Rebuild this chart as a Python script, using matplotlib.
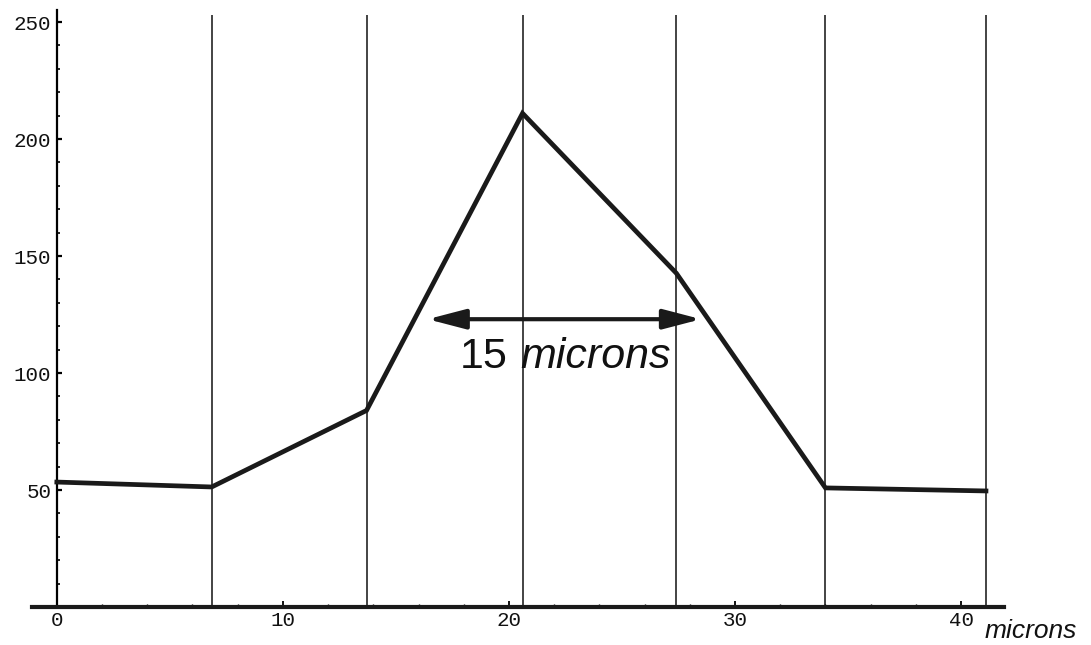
import matplotlib
matplotlib.use("Agg")
import matplotlib.pyplot as plt
from matplotlib.ticker import MultipleLocator

# Intensity profile sampled at each grid column (position in microns)
positions = [0.0, 6.85, 13.7, 20.6, 27.4, 34.0, 41.1]
intensity = [53.4, 51.3, 84.0, 211.0, 142.7, 50.9, 49.6]
grid_lines = positions[1:]

x_ticks = [0, 10, 20, 30, 40]
y_ticks = [50, 100, 150, 200, 250]

# Width marker for the peak
span_start, span_end, span_level = 16.4, 28.5, 123.0
span_label_num = "15"
span_label_unit = "microns"
axis_unit = "microns"

mono = ["Liberation Mono", "DejaVu Sans Mono"]
sans = ["Liberation Sans", "DejaVu Sans"]

fig = plt.figure(figsize=(10.91, 6.45), dpi=100)
ax = fig.add_axes([0.0293, 0.0589, 0.891, 0.9287])
ax.set_xlim(-1.1, 41.9)
ax.set_ylim(0, 256)

# Grid columns
ax.vlines(grid_lines, 0, 253, colors="#111111", linewidth=1.1, zorder=1)

# Profile
ax.plot(positions, intensity, color="#1a1a1a", linewidth=3.4,
        solid_joinstyle="miter", zorder=3)

# Axes styling
for side in ("top", "right"):
    ax.spines[side].set_visible(False)
ax.spines["left"].set_position(("data", 0))
ax.spines["left"].set_linewidth(1.6)
ax.spines["left"].set_bounds(0, 255)
ax.spines["bottom"].set_linewidth(3.0)
ax.spines["bottom"].set_color("#1a1a1a")

ax.set_xticks(x_ticks)
ax.set_yticks(y_ticks)
ax.xaxis.set_minor_locator(MultipleLocator(2))
ax.yaxis.set_minor_locator(MultipleLocator(10))
ax.tick_params(axis="x", which="major", direction="in", length=4.5, width=1.3, pad=3)
ax.tick_params(axis="x", which="minor", direction="in", length=2.0, width=1.0)
ax.tick_params(axis="y", which="major", direction="in", length=3.5, width=1.6, pad=4)
ax.tick_params(axis="y", which="minor", direction="in", length=2.0, width=1.2)
for lbl in ax.get_xticklabels() + ax.get_yticklabels():
    lbl.set_fontfamily(mono)
    lbl.set_fontsize(15)
    lbl.set_color("#111111")

# Axis unit after the last tick label
ax.text(41.06, -13.4, axis_unit, family=sans, style="italic", fontsize=19,
        ha="left", va="baseline", clip_on=False, color="#111111")

# Double-headed width arrow
ax.annotate("", xy=(span_start, span_level), xytext=(span_end, span_level),
            arrowprops=dict(arrowstyle="<|-|>,head_length=2.3,head_width=0.6",
                            mutation_scale=10, linewidth=3.0,
                            color="#1a1a1a", shrinkA=0, shrinkB=0),
            zorder=4)
ax.text(17.83, 102.1, span_label_num, family=sans, fontsize=31,
        ha="left", va="baseline", color="#111111", zorder=5)
ax.text(20.49, 102.1, span_label_unit, family=sans, style="italic", fontsize=31,
        ha="left", va="baseline", color="#111111", zorder=5)

fig.savefig("out.png", dpi=100)
